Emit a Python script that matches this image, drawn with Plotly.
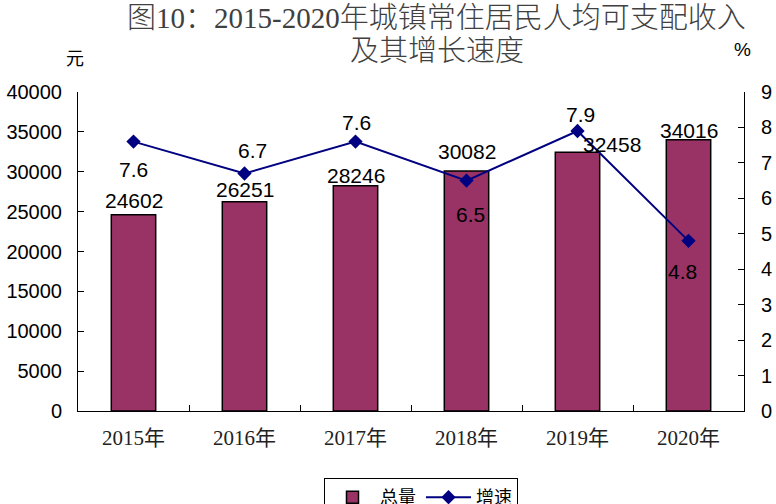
import plotly.graph_objects as go

years = ["2015年", "2016年", "2017年", "2018年", "2019年", "2020年"]
income = [24602, 26251, 28246, 30082, 32458, 34016]
growth = [7.6, 6.7, 7.6, 6.5, 7.9, 4.8]
left_ticks = [0, 5000, 10000, 15000, 20000, 25000, 30000, 35000, 40000]
right_ticks = [0, 1, 2, 3, 4, 5, 6, 7, 8, 9]
title_line1 = "图10：2015-2020年城镇常住居民人均可支配收入"
title_line2 = "及其增长速度"

# label offsets (style)
bar_lab_dy = [14, 12, 10, 20, 8, 9]
bar_lab_dx = [0, 0, 0, 0, 34, 0]
line_lab_dy = [-28, 23, 19, -34, 16, -31]
line_lab_dx = [0, 8, 1, 4, 3, -6]

num_font = "Liberation Sans, Arial, sans-serif"
serif_font = "Liberation Serif, Noto Sans CJK SC, serif"

W, H = 776, 504
PL, PR, PT, PB = 78, 744, 92, 411


def px_x(x):
    return (x - PL) / (PR - PL)


def px_y(y):
    return (PB - y) / (PB - PT)


fig = go.Figure()
fig.add_trace(go.Bar(
    x=years, y=income, name="总量", width=0.4,
    marker=dict(color="#993366", line=dict(color="black", width=1.5)),
    yaxis="y",
))
fig.add_trace(go.Scatter(
    x=years, y=growth, name="增速", mode="lines+markers",
    line=dict(color="#000080", width=2),
    marker=dict(symbol="diamond", size=11, color="#000080"),
    yaxis="y2",
))

ann = []
for i, (c, v) in enumerate(zip(years, income)):
    ann.append(dict(x=c, y=v, xref="x", yref="y", text=str(v), showarrow=False,
                    yanchor="middle", xanchor="center", yshift=bar_lab_dy[i], xshift=bar_lab_dx[i],
                    font=dict(family=num_font, size=21, color="black")))
for i, (c, v) in enumerate(zip(years, growth)):
    ann.append(dict(x=c, y=v, xref="x", yref="y2", text=str(v), showarrow=False,
                    yanchor="middle", xanchor="center", yshift=line_lab_dy[i], xshift=line_lab_dx[i],
                    font=dict(family=num_font, size=21, color="black")))
ann.append(dict(x=px_x(75), y=px_y(57), xref="paper", yref="paper", text="元",
                showarrow=False, xanchor="center", yanchor="middle",
                font=dict(family="Noto Sans CJK SC", size=18, color="black")))
ann.append(dict(x=px_x(742), y=px_y(50), xref="paper", yref="paper", text="%",
                showarrow=False, xanchor="center", yanchor="middle",
                font=dict(family=num_font, size=19, color="black")))
ann.append(dict(x=px_x(436), y=px_y(18), xref="paper", yref="paper", text=title_line1,
                showarrow=False, xanchor="center", yanchor="middle",
                font=dict(family=serif_font, size=29, color="#404040", weight=300)))
ann.append(dict(x=px_x(437), y=px_y(51), xref="paper", yref="paper", text=title_line2,
                showarrow=False, xanchor="center", yanchor="middle",
                font=dict(family=serif_font, size=29, color="#404040", weight=300)))

fig.update_layout(
    width=W, height=H,
    margin=dict(l=PL, r=W - PR, t=PT, b=H - PB, autoexpand=False),
    paper_bgcolor="white", plot_bgcolor="white",
    xaxis=dict(type="category", showline=True, linecolor="black", linewidth=1,
               ticks="inside", ticklen=6, tickcolor="black", tickson="boundaries",
               showgrid=False, ticklabelstandoff=8, automargin=False,
               tickfont=dict(family=serif_font, size=21, color="#222222")),
    yaxis=dict(range=[0, 40000], tickvals=left_ticks, tickformat="d", showline=True,
               linecolor="black", automargin=False,
               ticks="inside", ticklen=6, tickcolor="black", showgrid=False, zeroline=False,
               ticklabelstandoff=11,
               tickfont=dict(family=num_font, size=20, color="black")),
    yaxis2=dict(range=[0, 9], tickvals=right_ticks, tickformat="d", overlaying="y", side="right",
                showline=True, linecolor="black", ticks="inside", ticklen=6, tickcolor="black",
                showgrid=False, zeroline=False, ticklabelstandoff=12, automargin=False,
                tickfont=dict(family=num_font, size=20, color="black")),
    legend=dict(orientation="h", x=px_x(421), xanchor="center",
                y=px_y(478), yanchor="top", itemwidth=45,
                bordercolor="black", borderwidth=1, bgcolor="white",
                font=dict(family="Noto Sans CJK SC", size=18, color="black")),
    annotations=ann,
    showlegend=True,
)

fig.write_html("out.html", config={"displayModeBar": False},
               post_script="document.body.style.margin='0';")
